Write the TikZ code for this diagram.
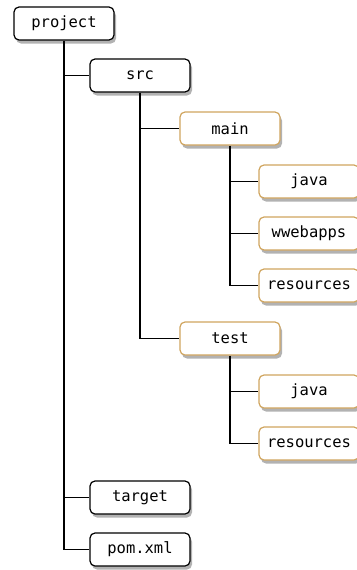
\documentclass[tikz,border=0pt]{standalone}
\usepackage{fontspec}
\setmonofont{DejaVu Sans Mono}
\usetikzlibrary{shadows}
\definecolor{gold}{RGB}{208,165,95}
\begin{document}
\begin{tikzpicture}[x=1pt,y=-1pt,
  box/.style={draw=black,line width=1.2pt,rounded corners=5pt,fill=white,
    minimum width=100pt,minimum height=33pt,inner sep=0pt,
    font=\ttfamily\fontsize{15.5}{18}\selectfont,
    drop shadow={shadow xshift=2pt,shadow yshift=-3.5pt,opacity=0.3,fill=black}},
  gbox/.style={box,draw=gold},
  link/.style={line width=1.2pt,black}]
\useasboundingbox (0,0) rectangle (356,570);
\node[box]  (project) at (64,23.5) {project};
\node[box]  (src)     at (140,75.5) {src};
\node[gbox] (main)    at (230,128.5) {main};
\node[gbox] (java1)   at (309,181.5) {java};
\node[gbox] (webapps) at (309,233.5) {wwebapps};
\node[gbox] (res1)    at (309,285.5) {resources};
\node[gbox] (test)    at (230,338.5) {test};
\node[gbox] (java2)   at (309,391.5) {java};
\node[gbox] (res2)    at (309,443.5) {resources};
\node[box]  (target)  at (140,497.5) {target};
\node[box]  (pom)     at (140,549.5) {pom.xml};
\draw[link] (project.south) |- (pom.west);
\draw[link] (project.south |- src.west) -- (src.west);
\draw[link] (project.south |- target.west) -- (target.west);
\draw[link] (src.south) |- (test.west);
\draw[link] (src.south |- main.west) -- (main.west);
\draw[link] (main.south) |- (res1.west);
\draw[link] (main.south |- java1.west) -- (java1.west);
\draw[link] (main.south |- webapps.west) -- (webapps.west);
\draw[link] (test.south) |- (res2.west);
\draw[link] (test.south |- java2.west) -- (java2.west);
\end{tikzpicture}
\end{document}
